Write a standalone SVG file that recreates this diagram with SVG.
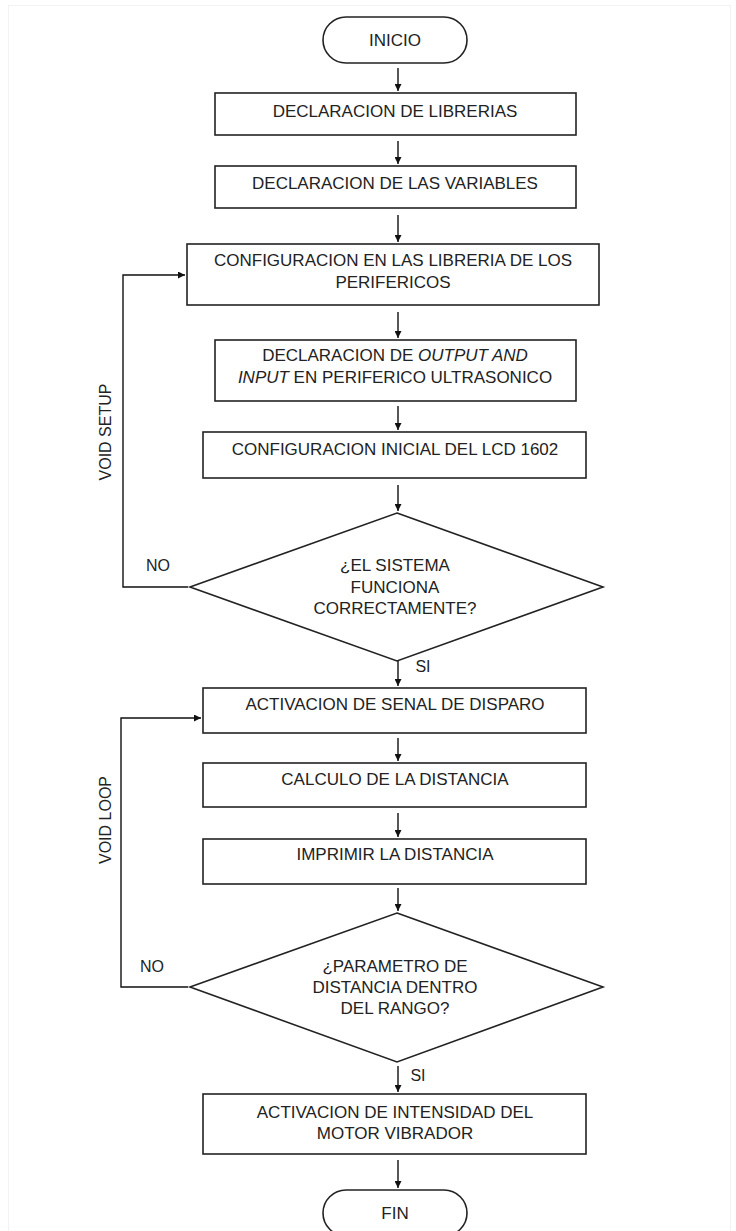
<svg xmlns="http://www.w3.org/2000/svg" width="736" height="1231" viewBox="0 0 736 1231">
<defs>
<marker id="ah" viewBox="0 0 10 10" refX="10" refY="5" markerWidth="7" markerHeight="7" markerUnits="userSpaceOnUse" orient="auto">
<path d="M0,0 L10,5 L0,10 z" fill="#111"/>
</marker>
<style>
.box{fill:#fff;stroke:#222;stroke-width:1.6}
.t{font-family:"Liberation Sans",Arial,sans-serif;font-size:17px;fill:#222;text-anchor:middle}
.s{font-family:"Liberation Sans",Arial,sans-serif;font-size:16px;fill:#222;text-anchor:middle}
.c{fill:none;stroke:#111;stroke-width:1.4;marker-end:url(#ah)}
</style>
</defs>
<rect x="0" y="0" width="736" height="1231" fill="#fff"/>
<rect x="8.5" y="5.5" width="722" height="1230" fill="none" stroke="#f2f2f2" stroke-width="1"/>

<g id="inicio"><rect class="box" x="323" y="17" width="144" height="46" rx="23"/><text class="t" x="395" y="46">INICIO</text></g>
<g id="librerias"><rect class="box" x="215" y="93" width="361" height="42"/><text class="t" x="395" y="117">DECLARACION DE LIBRERIAS</text></g>
<g id="variables"><rect class="box" x="215" y="166" width="361" height="42"/><text class="t" x="395" y="189">DECLARACION DE LAS VARIABLES</text></g>
<g id="config"><rect class="box" x="187" y="244" width="412" height="61"/><text class="t" x="393" y="266">CONFIGURACION EN LAS LIBRERIA DE LOS</text><text class="t" x="393" y="288">PERIFERICOS</text></g>
<g id="io"><rect class="box" x="215" y="340" width="361" height="61"/><text class="t" x="395" y="361">DECLARACION DE <tspan font-style="italic">OUTPUT AND</tspan></text><text class="t" x="395" y="383"><tspan font-style="italic">INPUT</tspan> EN PERIFERICO ULTRASONICO</text></g>
<g id="lcd"><rect class="box" x="203" y="432" width="383" height="46"/><text class="t" x="395" y="455">CONFIGURACION INICIAL DEL LCD 1602</text></g>
<g id="dec1"><polygon class="box" points="397,513 603,587 397,661 190,587"/><text class="t" x="395" y="571">¿EL SISTEMA</text><text class="t" x="395" y="593">FUNCIONA</text><text class="t" x="395" y="614">CORRECTAMENTE?</text></g>
<g id="disparo"><rect class="box" x="203" y="688" width="383" height="45"/><text class="t" x="395" y="710">ACTIVACION DE SENAL DE DISPARO</text></g>
<g id="calculo"><rect class="box" x="203" y="763" width="383" height="44"/><text class="t" x="395" y="785">CALCULO DE LA DISTANCIA</text></g>
<g id="imprimir"><rect class="box" x="203" y="839" width="383" height="45"/><text class="t" x="395" y="860">IMPRIMIR LA DISTANCIA</text></g>
<g id="dec2"><polygon class="box" points="397,913 603,987 397,1062 190,987"/><text class="t" x="395" y="972">¿PARAMETRO DE</text><text class="t" x="395" y="993">DISTANCIA DENTRO</text><text class="t" x="395" y="1014">DEL RANGO?</text></g>
<g id="motor"><rect class="box" x="203" y="1094" width="383" height="60"/><text class="t" x="395" y="1118">ACTIVACION DE INTENSIDAD DEL</text><text class="t" x="395" y="1139">MOTOR VIBRADOR</text></g>
<g id="fin"><rect class="box" x="323" y="1190" width="144" height="46" rx="23"/><text class="t" x="395" y="1219">FIN</text></g>

<g id="connectors">
<line class="c" x1="398" y1="68" x2="398" y2="91"/>
<line class="c" x1="398" y1="141" x2="398" y2="164"/>
<line class="c" x1="398" y1="215" x2="398" y2="242"/>
<line class="c" x1="398" y1="312" x2="398" y2="338"/>
<line class="c" x1="398" y1="406" x2="398" y2="430"/>
<line class="c" x1="398" y1="485" x2="398" y2="511"/>
<line class="c" x1="398" y1="661" x2="398" y2="686"/>
<line class="c" x1="398" y1="738" x2="398" y2="761"/>
<line class="c" x1="398" y1="813" x2="398" y2="837"/>
<line class="c" x1="398" y1="888" x2="398" y2="911"/>
<line class="c" x1="398" y1="1066" x2="398" y2="1092"/>
<line class="c" x1="398" y1="1160" x2="398" y2="1188"/>
<polyline class="c" points="188,587 123,587 123,275 185,275"/>
<polyline class="c" points="188,987 121,987 121,718 201,718"/>
</g>
<g id="labels">
<text class="s" x="158" y="571">NO</text>
<text class="s" x="152" y="972">NO</text>
<text class="s" x="423" y="672" font-size="15">SI</text>
<text class="s" x="418" y="1081" font-size="15">SI</text>
<text class="s" transform="translate(111,432) rotate(-90)">VOID SETUP</text>
<text class="s" transform="translate(111,820) rotate(-90)">VOID LOOP</text>
</g>
</svg>
